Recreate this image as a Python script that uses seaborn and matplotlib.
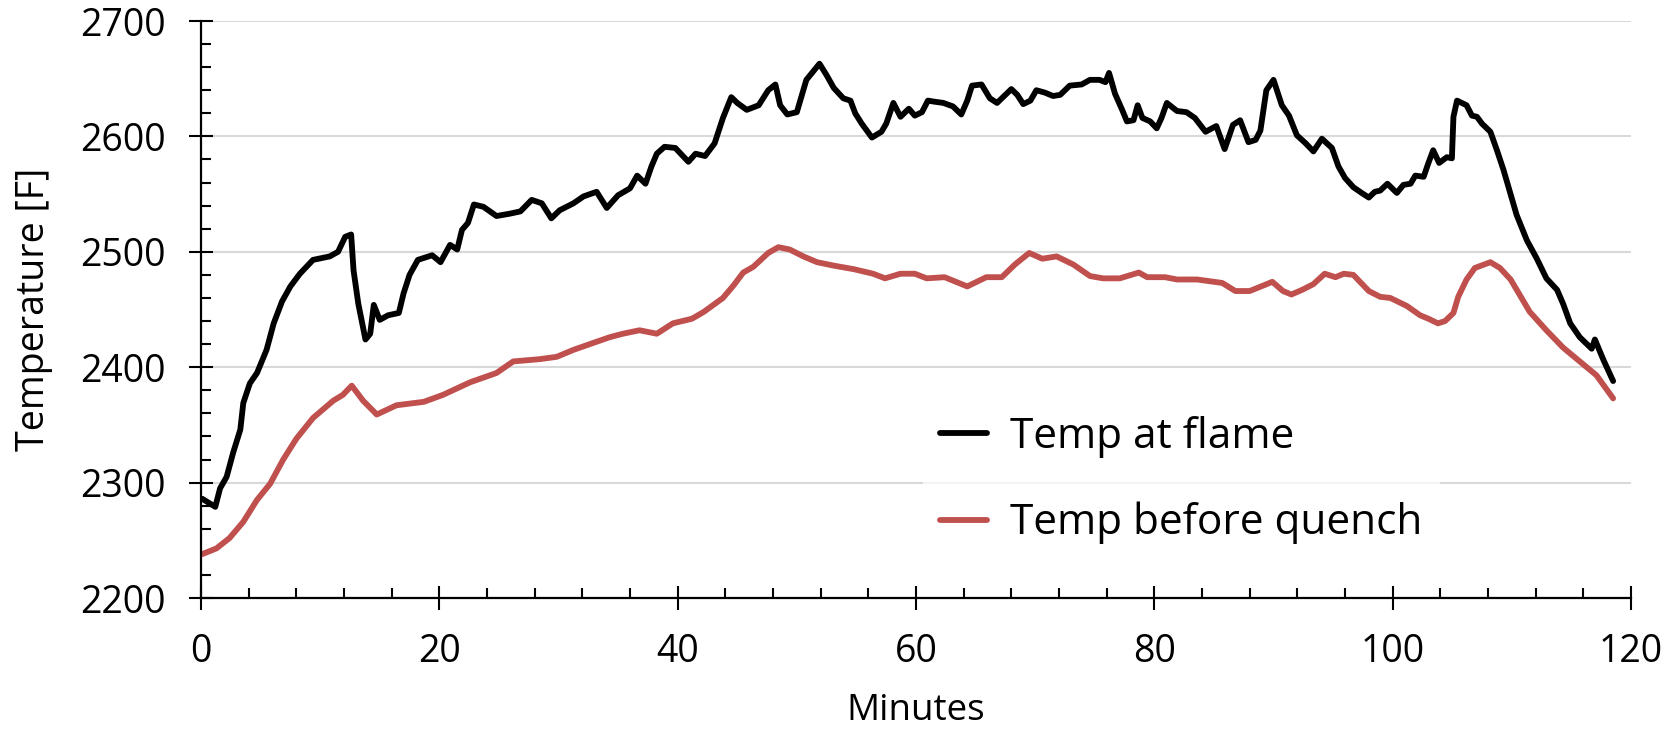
import matplotlib
matplotlib.use("Agg")
import matplotlib.pyplot as plt
from matplotlib.ticker import MultipleLocator
import seaborn as sns
import pandas as pd

# ---- data ----
flame_min = [0.1, 1.2, 1.6, 2.15, 2.7, 3.3, 3.55, 4.1, 4.7, 5.5, 6.1, 6.8, 7.5, 8.3, 9.4, 10.8, 11.5, 12.1, 12.6, 12.8,
             13.2, 13.8, 14.2, 14.5, 15.0, 15.7, 16.6, 17.0, 17.5, 18.2, 19.4, 20.1, 20.9, 21.5, 21.9, 22.4, 22.9, 23.7,
             24.8, 25.9, 26.8, 27.75, 28.6, 29.4, 30.1, 31.25, 32.1, 33.2, 34.05, 35.0, 36.0, 36.6, 37.3, 37.8, 38.25,
             38.9, 39.8, 40.9, 41.5, 42.3, 43.1, 43.8, 44.5, 45.0, 45.8, 46.8, 47.6, 48.2, 48.6, 49.2, 50.0, 50.8, 51.9,
             52.5, 53.1, 53.9, 54.5, 54.9, 55.45, 56.3, 57.1, 57.5, 58.1, 58.7, 59.4, 59.9, 60.5, 61.0, 61.6, 62.3, 63.1,
             63.8, 64.3, 64.7, 65.5, 66.2, 66.8, 67.5, 68.0, 68.5, 69.0, 69.6, 70.1, 70.8, 71.5, 72.1, 72.9, 73.9, 74.6,
             75.4, 75.9, 76.2, 76.7, 77.3, 77.7, 78.25, 78.6, 79.0, 79.65, 80.2, 80.6, 81.05, 81.9, 82.7, 83.4, 84.3,
             85.2, 85.9, 86.6, 87.2, 87.9, 88.5, 88.9, 89.4, 90.0, 90.7, 91.3, 91.96, 92.7, 93.35, 94.06, 94.9, 95.45,
             96.0, 96.7, 97.4, 98.0, 98.5, 98.95, 99.56, 100.35, 100.9, 101.5, 101.9, 102.6, 103.0, 103.4, 103.9,
             104.55, 104.97, 105.1, 105.4, 106.2, 106.65, 107.07, 107.5, 108.2, 108.75, 109.3, 109.86, 110.4, 111.26,
             112.1, 112.9, 113.8, 114.3, 114.9, 115.7, 116.7, 116.97, 117.7, 118.5]
flame_temp = [2286, 2279, 2295, 2305, 2326, 2346, 2369, 2386, 2395, 2415, 2438, 2457, 2470, 2481, 2493, 2496, 2500, 2513,
              2515, 2484, 2455, 2424, 2429, 2454, 2441, 2445, 2447, 2464, 2480, 2493, 2497, 2491, 2506, 2502, 2519,
              2525, 2541, 2539, 2531, 2533, 2535, 2545, 2542, 2529, 2536, 2542, 2548, 2552, 2538, 2549, 2555, 2566,
              2559, 2574, 2585, 2591, 2590, 2578, 2585, 2583, 2594, 2616, 2634, 2629, 2623, 2627, 2640, 2645, 2627,
              2619, 2621, 2649, 2663, 2653, 2642, 2633, 2631, 2620, 2611, 2599, 2604, 2611, 2629, 2617, 2624, 2618,
              2621, 2631, 2630, 2629, 2626, 2619, 2631, 2644, 2645, 2633, 2629, 2636, 2641, 2636, 2628, 2631, 2640,
              2638, 2635, 2636, 2644, 2645, 2649, 2649, 2647, 2655, 2637, 2623, 2613, 2614, 2627, 2616, 2613, 2607,
              2616, 2629, 2622, 2621, 2616, 2604, 2609, 2589, 2610, 2614, 2595, 2597, 2605, 2640, 2649, 2627, 2618,
              2601, 2594, 2587, 2598, 2590, 2574, 2564, 2556, 2551, 2547, 2552, 2553, 2559, 2551, 2558, 2559, 2566,
              2565, 2577, 2588, 2577, 2582, 2581, 2617, 2631, 2627, 2618, 2617, 2611, 2604, 2588, 2571, 2551, 2532,
              2510, 2494, 2477, 2467, 2455, 2438, 2426, 2416, 2424, 2406, 2388]

quench_min = [0.1, 1.3, 2.4, 3.55, 4.7, 5.8, 6.9, 8.0, 9.4, 11.1, 11.9, 12.65, 13.6, 14.75, 16.4, 18.7, 20.3, 22.6,
              24.8, 26.2, 28.45, 29.85, 31.25, 32.9, 34.3, 35.4, 36.8, 38.25, 39.6, 41.2, 42.2, 43.8, 44.7, 45.5,
              46.35, 47.6, 48.45, 49.4, 50.55, 51.7, 53.1, 54.75, 56.4, 57.4, 58.7, 59.9, 60.9, 62.4, 64.3, 65.9,
              67.2, 68.3, 69.5, 70.6, 71.8, 73.2, 74.6, 75.7, 77.1, 78.7, 79.4, 80.9, 81.9, 83.6, 85.7, 86.8, 88.0,
              89.2, 89.9, 90.8, 91.5, 92.4, 93.35, 94.3, 95.2, 95.9, 96.7, 98.0, 98.95, 99.8, 101.2, 102.3, 103.0,
              103.8, 104.4, 105.1, 105.5, 106.2, 106.9, 108.2, 109.0, 109.9, 111.5, 112.9, 114.3, 115.7, 117.1, 118.5]
quench_temp = [2238, 2243, 2252, 2266, 2285, 2299, 2320, 2338, 2356, 2371, 2376, 2384, 2371, 2359, 2367, 2370, 2376,
               2387, 2395, 2405, 2407, 2409, 2415, 2421, 2426, 2429, 2432, 2429, 2438, 2442, 2448, 2460, 2471, 2482,
               2487, 2499, 2504, 2502, 2496, 2491, 2488, 2485, 2481, 2477, 2481, 2481, 2477, 2478, 2470, 2478, 2478,
               2489, 2499, 2494, 2496, 2489, 2479, 2477, 2477, 2482, 2478, 2478, 2476, 2476, 2473, 2466, 2466, 2471,
               2474, 2466, 2463, 2467, 2472, 2481, 2478, 2481, 2480, 2466, 2461, 2460, 2453, 2445, 2442, 2438, 2440,
               2447, 2461, 2476, 2486, 2491, 2486, 2476, 2448, 2432, 2417, 2405, 2393, 2373]

series_names = ["Temp at flame", "Temp before quench"]
series_colors = ["#000000", "#C0504D"]
x_label = "Minutes"
y_label = "Temperature [F]"

df = pd.concat([
    pd.DataFrame({"Minutes": flame_min, "Temp": flame_temp, "Series": series_names[0]}),
    pd.DataFrame({"Minutes": quench_min, "Temp": quench_temp, "Series": series_names[1]}),
], ignore_index=True)

sns.set_theme(style="white")
plt.rcParams["font.family"] = ["Open Sans", "DejaVu Sans"]
plt.rcParams["text.color"] = "black"
plt.rcParams["axes.labelcolor"] = "black"
plt.rcParams["xtick.color"] = "black"
plt.rcParams["ytick.color"] = "black"

fig = plt.figure(figsize=(16.79, 7.31), dpi=100)
ax = fig.add_axes([201 / 1679, 1 - 598 / 731, 1430 / 1679, 577 / 731])

sns.lineplot(data=df, x="Minutes", y="Temp", hue="Series", palette=dict(zip(series_names, series_colors)),
             linewidth=4.2, sort=False, estimator=None, ax=ax)

ax.set_xlim(0, 120)
ax.set_ylim(2200, 2700)
ax.xaxis.set_major_locator(MultipleLocator(20))
ax.xaxis.set_minor_locator(MultipleLocator(4))
ax.yaxis.set_major_locator(MultipleLocator(100))
ax.yaxis.set_minor_locator(MultipleLocator(20))
ax.grid(axis="y", which="major", color="#D9D9D9", linewidth=1.5)
ax.grid(axis="x", visible=False)
ax.set_axisbelow(True)

for s in ["top", "right"]:
    ax.spines[s].set_visible(False)
for s in ["left", "bottom"]:
    ax.spines[s].set_color("black")
    ax.spines[s].set_linewidth(1.6)

ax.tick_params(which="major", direction="inout", length=17, width=1.5, color="black", labelcolor="black",
               labelsize=27, pad=17, left=True, bottom=True)
ax.tick_params(which="minor", direction="in", length=7, width=1.5, color="black", left=True, bottom=True)

ax.set_xlabel(x_label, fontsize=26.5, color="black")
ax.set_ylabel(y_label, fontsize=27, color="black")
ax.xaxis.label.set_va("center")
ax.yaxis.label.set_va("center")
ax.xaxis.set_label_coords(0.5, -0.195)
ax.yaxis.set_label_coords(-0.117, 0.5)

leg = ax.legend(loc="center left", bbox_to_anchor=(0.505, 0.2045), fontsize=30.5, frameon=True,
                facecolor="white", edgecolor="none", framealpha=0.7, borderaxespad=0, borderpad=0.4,
                handlelength=1.1, handletextpad=0.56, labelspacing=1.05)
for line in leg.get_lines():
    line.set_linewidth(4.2)
for t in leg.get_texts():
    t.set_color("black")

fig.savefig("out.png", dpi=100)
